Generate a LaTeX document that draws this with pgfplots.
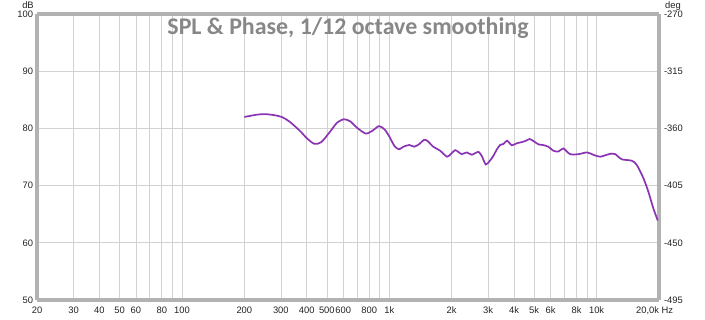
\documentclass[border=0pt]{standalone}
\usepackage{fontspec}
\setmainfont{Liberation Sans}
\newfontfamily\titlefont{Carlito}
\usepackage{pgfplots}
\pgfplotsset{compat=1.18}
\definecolor{curve}{RGB}{138,52,180}
\definecolor{framec}{RGB}{178,178,178}
\definecolor{gridc}{RGB}{210,210,210}
\definecolor{titlec}{RGB}{135,135,135}
\definecolor{lbl}{RGB}{35,35,35}
\begin{document}
\begin{tikzpicture}
\path[use as bounding box] (-37bp,-20bp) rectangle (668bp,300bp);
\begin{axis}[
  at={(0,0)}, anchor=south west, scale only axis,
  width=622bp, height=286bp,
  clip mode=individual,
  xmode=log, xmin=20, xmax=20000, ymin=50, ymax=100,
  xtick={20,30,40,50,60,70,80,90,100,200,300,400,500,600,700,800,900,1000,2000,3000,4000,5000,6000,7000,8000,9000,10000,20000},
  xticklabels={20,30,40,50,60,,80,,100,200,300,400,500,600,,800,,1k,2k,3k,4k,5k,6k,,8k,,10k,{\llap{20,0k}\rlap{ Hz}}},
  ytick={50,60,70,80,90,100},
  yticklabels={50,60,70,80,90,100},
  grid=major, major grid style={draw=gridc, line width=0.7bp},
  major tick length=0,
  separate axis lines,
  every outer x axis line/.append style={draw=framec, line width=3.5bp},
  every outer y axis line/.append style={draw=framec, line width=3.5bp},
  tick label style={font=\fontsize{9.4}{10}\selectfont, text=lbl},
  xticklabel style={yshift=-3.5bp},
  yticklabel style={xshift=-0.5bp},
]
\addplot[curve, line width=1.7bp, smooth, tension=0.45] table {
f db
200 82.0
230 82.4
252 82.5
280 82.3
303 82.0
330 81.2
370 79.6
400 78.3
435 77.3
470 77.6
520 79.5
560 81.0
605 81.6
650 81.2
700 80.1
770 79.1
830 79.6
893 80.4
950 79.8
1000 78.6
1060 76.9
1115 76.35
1170 76.8
1250 77.1
1320 76.8
1400 77.3
1470 78.0
1530 77.8
1630 76.8
1760 76.1
1900 75.05
1990 75.6
2077 76.2
2150 75.9
2238 75.5
2365 75.8
2500 75.4
2691 75.9
2800 75.1
2921 73.7
3050 74.3
3178 75.2
3300 76.3
3424 77.1
3560 77.3
3700 77.85
3900 77.05
4121 77.4
4358 77.6
4570 77.85
4760 78.15
5000 77.7
5250 77.2
5500 77.1
5850 76.8
6180 76.1
6550 75.95
6917 76.5
7450 75.5
8200 75.5
9000 75.8
9700 75.35
10400 75.05
11000 75.3
11800 75.6
12300 75.5
13230 74.6
14790 74.35
15630 73.6
16820 71.3
17780 68.9
18790 66.0
19730 63.9
};
\node[font=\titlefont\bfseries\fontsize{24}{26}\selectfont, text=titlec, anchor=base] at (rel axis cs:0.5,0.9266) {SPL \& Phase, 1/12 octave smoothing};
\node[font=\fontsize{9.4}{10}\selectfont, text=lbl, anchor=base, xshift=-9bp, yshift=5bp] at (rel axis cs:0,1) {dB};
\node[font=\fontsize{9.4}{10}\selectfont, text=lbl, anchor=base, xshift=14bp, yshift=5.5bp] at (rel axis cs:1,1) {deg};
\end{axis}
\begin{axis}[
  at={(0,0)}, anchor=south west, scale only axis,
  width=622bp, height=286bp,
  xmode=log, xmin=20, xmax=20000, ymin=-495, ymax=-270,
  hide x axis, axis y line*=right,
  y axis line style={draw=none},
  ytick={-495,-450,-405,-360,-315,-270},
  yticklabels={-495,-450,-405,-360,-315,-270},
  major tick length=0,
  tick label style={font=\fontsize{9.4}{10}\selectfont, text=lbl},
  yticklabel style={xshift=1.5bp},
]
\end{axis}
\end{tikzpicture}
\end{document}
